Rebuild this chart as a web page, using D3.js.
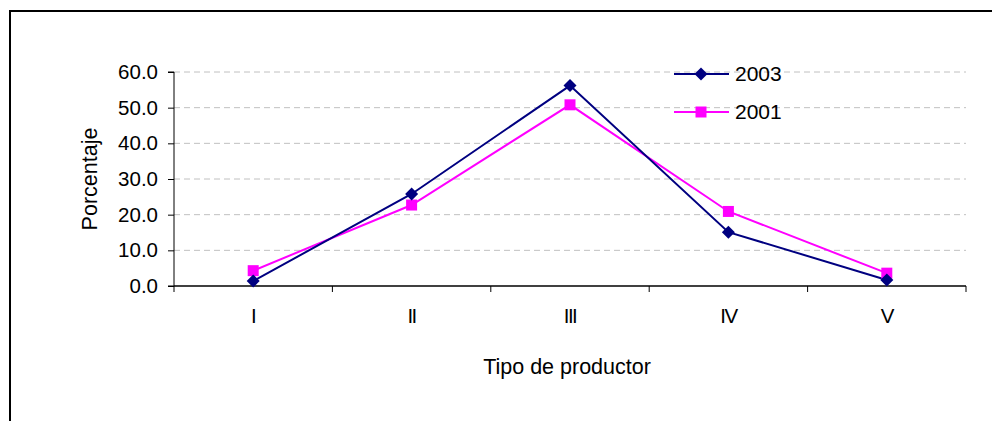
<!DOCTYPE html>
<html><head><meta charset="utf-8">
<script src="https://cdn.jsdelivr.net/npm/d3@7"></script>
<style>body{margin:0;background:#fff}svg{display:block}text{font-family:"Liberation Sans",Arial,sans-serif;fill:#000}</style>
</head><body>
<svg id="c" width="992" height="421"></svg>
<script>
const categories = ["I","II","III","IV","V"];
const series2003 = [1.4, 25.8, 56.2, 15.1, 1.7];
const series2001 = [4.3, 22.7, 50.8, 20.9, 3.6];
const yTicks = [0,10,20,30,40,50,60];
const seriesNames = ["2003","2001"];

const svg = d3.select("#c");
// outer frame
svg.append("rect").attr("x",10).attr("y",11).attr("width",1000).attr("height",500)
  .attr("fill","none").attr("stroke","#000").attr("stroke-width",2);

const L=174, R=966, T=72, B=286;
const x = d3.scaleBand().domain(categories).range([L,R]);
const y = d3.scaleLinear().domain([0,60]).range([B,T]);

// gridlines
svg.append("g").selectAll("line").data(yTicks.filter(d=>d>0)).join("line")
  .attr("x1",L).attr("x2",R).attr("y1",d=>y(d)).attr("y2",d=>y(d))
  .attr("stroke","#c0c0c0").attr("stroke-width",1).attr("stroke-dasharray","6,4");

// y axis
const ya = svg.append("g").attr("transform",`translate(${L},0)`)
  .call(d3.axisLeft(y).tickValues(yTicks).tickFormat(d3.format(".1f")).tickSize(6).tickPadding(10));
ya.select(".domain").attr("stroke","#000").attr("d",`M-6,${T}H0V${B}H-6`);
ya.selectAll("text").style("font-size","20.5px").attr("font-family","Liberation Sans, Arial, sans-serif");

// x axis
const xa = svg.append("g").attr("transform",`translate(0,${B})`);
xa.append("line").attr("x1",L).attr("x2",R).attr("y1",0).attr("y2",0).attr("stroke","#000").attr("stroke-width",1.5);
const bounds = categories.map(c=>x(c)).concat([x(categories[categories.length-1])+x.bandwidth()]);
xa.selectAll("line.t").data(bounds).join("line").attr("class","t")
  .attr("x1",d=>d).attr("x2",d=>d).attr("y1",0).attr("y2",6).attr("stroke","#000");
xa.selectAll("text").data(categories).join("text")
  .attr("x",d=>x(d)+x.bandwidth()/2).attr("y",37).attr("text-anchor","middle")
  .style("font-size","20.5px").style("letter-spacing","-1.5px").text(d=>d);

// axis titles
svg.append("text").attr("x",(L+R)/2-3).attr("y",374).attr("text-anchor","middle")
  .style("font-size","21.5px").text("Tipo de productor");
svg.append("text").attr("transform","translate(97,179) rotate(-90)").attr("text-anchor","middle")
  .style("font-size","21.5px").text("Porcentaje");

const colors = ["#000080","#ff00ff"];
const data = [series2003, series2001];
const line = d3.line().x((d,i)=>x(categories[i])+x.bandwidth()/2).y(d=>y(d));
const diamond = "M0,-6.5L6.5,0L0,6.5L-6.5,0Z";
const square = "M-5.5,-5.5H5.5V5.5H-5.5Z";
const shapes = [diamond, square];

[1,0].forEach(k=>{
  svg.append("path").datum(data[k]).attr("d",line).attr("fill","none")
    .attr("stroke",colors[k]).attr("stroke-width",2);
});
[1,0].forEach(k=>{
  svg.append("g").selectAll("path").data(data[k]).join("path")
    .attr("transform",(d,i)=>`translate(${x(categories[i])+x.bandwidth()/2},${y(d)})`)
    .attr("d",shapes[k]).attr("fill",colors[k]);
});

// legend
const leg = svg.append("g");
seriesNames.forEach((n,k)=>{
  const ly = 74 + k*38;
  leg.append("line").attr("x1",674).attr("x2",729).attr("y1",ly).attr("y2",ly)
    .attr("stroke",colors[k]).attr("stroke-width",2);
  leg.append("path").attr("transform",`translate(701,${ly})`).attr("d",shapes[k]).attr("fill",colors[k]);
  leg.append("text").attr("x",735).attr("y",ly+7).style("font-size","21px").text(n);
});
</script>
</body></html>
